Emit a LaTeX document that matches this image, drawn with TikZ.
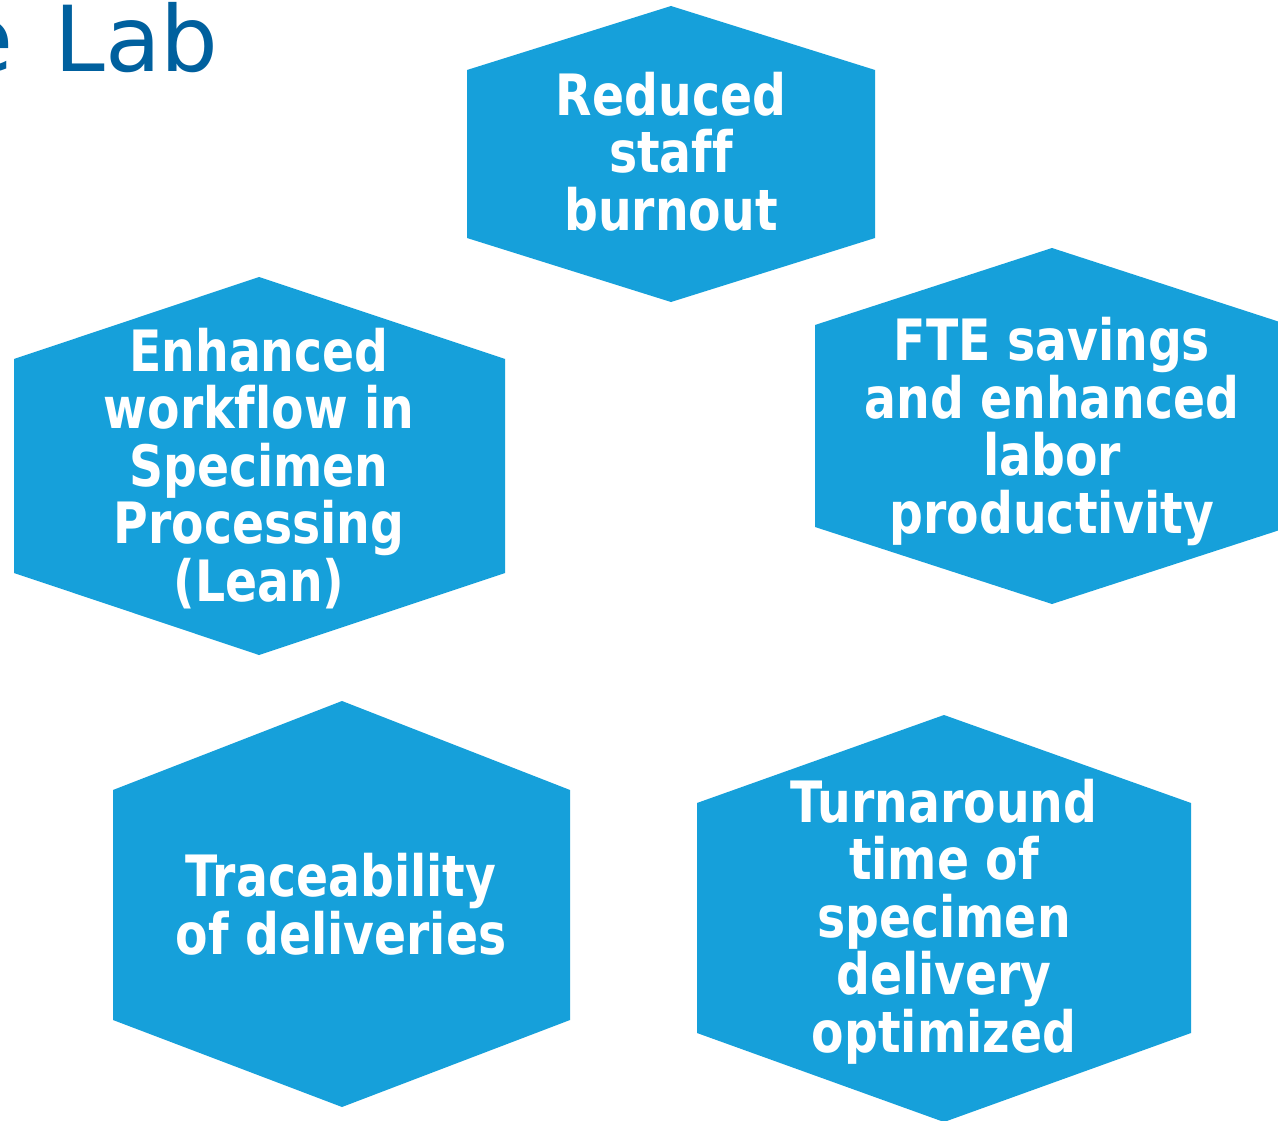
\documentclass[tikz,border=0pt]{standalone}
\usepackage{fontspec}
\newfontfamily\hexfont{DejaVu Sans}[FakeStretch=0.83,Ligatures=NoCommon]
\newfontfamily\titlefont{DejaVu Sans}
\definecolor{hexblue}{RGB}{22,160,218}
\definecolor{titleblue}{RGB}{0,96,158}
\begin{document}
\begin{tikzpicture}[x=1pt,y=-1pt,
  hexshape/.style={fill=hexblue,draw=none},
  hextext/.style={anchor=base,align=center,inner sep=0pt,text=white,
    font=\hexfont\bfseries\fontsize{57}{57.5}\selectfont}]
\useasboundingbox (0,0) rectangle (1278,1121);
\clip (0,0) rectangle (1278,1121);
\fill[white] (0,0) rectangle (1278,1121);
% title (cut off at left)
\node[anchor=base east,inner sep=0pt,text=titleblue,font=\titlefont\fontsize{91}{95}\selectfont] (title) at (219,72) {e\hspace{12pt} Lab};
% hexagons
\path[hexshape] (671,6) -- (875,70) -- (875,238) -- (671,302) -- (467,238) -- (467,70) -- cycle;
\path[hexshape] (259,277) -- (505,359) -- (505,573) -- (259,655) -- (14,573) -- (14,359) -- cycle;
\path[hexshape] (1052,248) -- (1289,325) -- (1289,527) -- (1052,604) -- (815,527) -- (815,325) -- cycle;
\path[hexshape] (342,701) -- (570,790) -- (570,1020) -- (342,1107) -- (113,1020) -- (113,790) -- cycle;
\path[hexshape] (944,715) -- (1191,803) -- (1191,1033) -- (944,1122) -- (697,1033) -- (697,803) -- cycle;
% texts (anchor = baseline of last line)
\node[hextext] (burnout) at (671,230) {Reduced\\staff\\burnout};
\node[hextext] (workflow) at (259,601) {Enhanced\\workflow in\\Specimen\\Processing\\(Lean)};
\node[hextext] (fte) at (1052,533) {FTE savings\\and enhanced\\labor\\productivity};
\node[hextext] (trace) at (341,954) {Traceability\\of deliveries};
\node[hextext] (tat) at (944,1052) {Turnaround\\time of\\specimen\\delivery\\optimized};
\end{tikzpicture}
\end{document}
